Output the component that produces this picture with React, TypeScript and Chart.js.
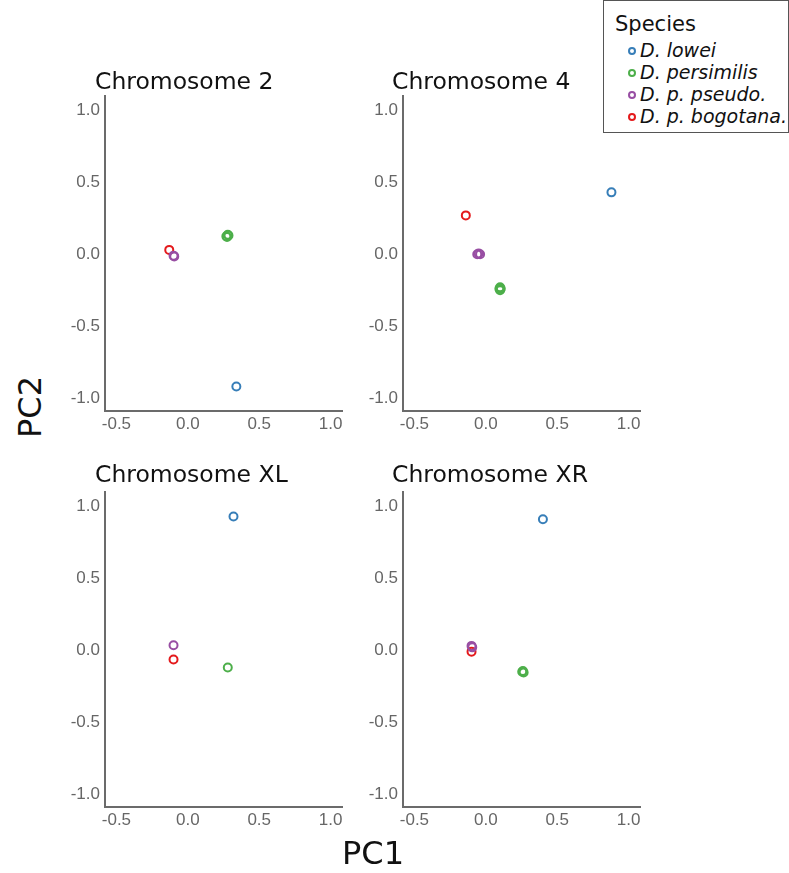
import React, { useEffect, useRef } from "react";
import { Chart, registerables } from "chart.js";

Chart.register(...registerables);

// ---------- data ----------
const speciesNames = ["D. lowei", "D. persimilis", "D. p. pseudo.", "D. p. bogotana."];
const speciesColors = ["#377eb8", "#4daf4a", "#984ea3", "#e41a1c"];
const chromosomeTitles = ["Chromosome 2", "Chromosome 4", "Chromosome XL", "Chromosome XR"];
const xTickValues = [-0.5, 0.0, 0.5, 1.0];
const yTickValues = [-1.0, -0.5, 0.0, 0.5, 1.0];
const axisTitleX = "PC1";
const axisTitleY = "PC2";
const legendTitle = "Species";

// PC1 / PC2 per chromosome; inner lists follow speciesNames order
const chr2PC1 = [[0.34], [0.27, 0.28, 0.285, 0.275], [-0.10, -0.095], [-0.13]];
const chr2PC2 = [[-0.92], [0.125, 0.135, 0.13, 0.12], [-0.01, -0.015], [0.03]];
const chr4PC1 = [[0.88], [0.10, 0.10, 0.105, 0.095], [-0.06, -0.04, -0.05], [-0.14]];
const chr4PC2 = [[0.43], [-0.23, -0.25, -0.24, -0.24], [0.0, 0.0, 0.005], [0.27]];
const chrXLPC1 = [[0.32], [0.28], [-0.10], [-0.10]];
const chrXLPC2 = [[0.93], [-0.12], [0.035], [-0.065]];
const chrXRPC1 = [[0.40], [0.255, 0.265, 0.26], [-0.10, -0.095], [-0.10]];
const chrXRPC2 = [[0.91], [-0.15, -0.155, -0.145], [0.03, 0.02], [-0.01]];

const X_MIN = -0.58;
const X_MAX = 1.08;
const Y_MIN = -1.09;
const Y_MAX = 1.1;

// ---------- layout ----------
const Y_AXIS_W = 50;
const X_AXIS_H = 32;
const PAD_T = 6;
const PAD_R = 8;
const AREA_W = 237;
const AREA_H = 315;

const panels = [
  { pc1: chr2PC1, pc2: chr2PC2, areaLeft: 105, areaTop: 96, titleLeft: 95, titleBase: 90 },
  { pc1: chr4PC1, pc2: chr4PC2, areaLeft: 403, areaTop: 96, titleLeft: 392, titleBase: 90 },
  { pc1: chrXLPC1, pc2: chrXLPC2, areaLeft: 105, areaTop: 492, titleLeft: 95, titleBase: 483 },
  { pc1: chrXRPC1, pc2: chrXRPC2, areaLeft: 403, areaTop: 492, titleLeft: 392, titleBase: 483 },
];

const AXIS_COLOR = "#6b6b6b";
const TICK_COLOR = "#666666";
const SANS = "'DejaVu Sans', Verdana, sans-serif";

function Panel({ pc1, pc2, areaLeft, areaTop }: any) {
  const ref = useRef<HTMLCanvasElement>(null);
  const width = Y_AXIS_W + AREA_W + PAD_R;
  const height = PAD_T + AREA_H + X_AXIS_H;
  useEffect(() => {
    const chart = new Chart(ref.current as HTMLCanvasElement, {
      type: "scatter",
      data: {
        datasets: speciesNames.map((name, i) => ({
          label: name,
          data: pc1[i].map((x: number, j: number) => ({ x, y: pc2[i][j] })),
          borderColor: speciesColors[i],
          backgroundColor: "rgba(0,0,0,0)",
          pointRadius: 4,
          pointHoverRadius: 4,
          pointBorderWidth: 2,
        })),
      },
      options: {
        responsive: false,
        animation: false,
        events: [],
        layout: { padding: { top: PAD_T, right: PAD_R, left: 0, bottom: 0 } },
        plugins: { legend: { display: false }, tooltip: { enabled: false }, title: { display: false } },
        scales: {
          x: {
            type: "linear",
            min: X_MIN,
            max: X_MAX,
            grid: { display: false, drawTicks: false },
            border: { display: true, color: AXIS_COLOR, width: 2 },
            afterBuildTicks: (s: any) => {
              s.ticks = xTickValues.map((v) => ({ value: v }));
            },
            afterFit: (s: any) => {
              s.height = X_AXIS_H;
              s.paddingLeft = 0;
              s.paddingRight = 0;
            },
            ticks: {
              color: TICK_COLOR,
              font: { family: "'Liberation Sans', Arial, sans-serif", size: 17 },
              padding: 3,
              maxRotation: 0,
              autoSkip: false,
              callback: (v: any) => Number(v).toFixed(1),
            },
          },
          y: {
            type: "linear",
            min: Y_MIN,
            max: Y_MAX,
            grid: { display: false, drawTicks: false },
            border: { display: true, color: AXIS_COLOR, width: 2 },
            afterBuildTicks: (s: any) => {
              s.ticks = yTickValues.map((v) => ({ value: v }));
            },
            afterFit: (s: any) => {
              s.width = Y_AXIS_W;
              s.paddingTop = 0;
              s.paddingBottom = 0;
            },
            ticks: {
              color: TICK_COLOR,
              font: { family: "'Liberation Sans', Arial, sans-serif", size: 17 },
              padding: 5,
              autoSkip: false,
              callback: (v: any) => Number(v).toFixed(1),
            },
          },
        },
      },
    } as any);
    return () => chart.destroy();
  }, []);
  return (
    <canvas
      ref={ref}
      width={width}
      height={height}
      style={{ position: "absolute", left: areaLeft - Y_AXIS_W, top: areaTop - PAD_T, width, height }}
    />
  );
}

export default function App() {
  const titleSize = 23.5;
  const titleOffset = (titleSize - titleSize * 1.164) / 2 + titleSize * 0.928;
  const itemSize = 19;
  const itemOffset = (itemSize - itemSize * 1.164) / 2 + itemSize * 0.928;
  const legSize = 21;
  const legOffset = (legSize - legSize * 1.164) / 2 + legSize * 0.928;
  const itemBaselines = [57, 79, 101, 123];
  return (
    <div style={{ position: "absolute", left: 0, top: 0, width: 789, height: 873, background: "#fff", overflow: "hidden" }}>
      {panels.map((p, i) => (
        <React.Fragment key={i}>
          <Panel {...p} />
          <div
            style={{
              position: "absolute",
              left: p.titleLeft,
              top: p.titleBase - titleOffset,
              fontFamily: SANS,
              fontSize: titleSize,
              lineHeight: `${titleSize}px`,
              color: "#111",
              whiteSpace: "nowrap",
            }}
          >
            {chromosomeTitles[i]}
          </div>
        </React.Fragment>
      ))}
      <div
        style={{
          position: "absolute",
          left: 30,
          top: 407,
          transform: "translate(-50%, -50%) rotate(-90deg)",
          fontFamily: SANS,
          fontSize: 32,
          lineHeight: "32px",
          color: "#111",
          whiteSpace: "nowrap",
        }}
      >
        {axisTitleY}
      </div>
      <div
        style={{
          position: "absolute",
          left: 373,
          top: 853,
          transform: "translate(-50%, -50%)",
          fontFamily: SANS,
          fontSize: 32,
          lineHeight: "32px",
          color: "#111",
          whiteSpace: "nowrap",
        }}
      >
        {axisTitleX}
      </div>
      <div
        style={{
          position: "absolute",
          left: 603,
          top: 0,
          width: 186,
          height: 133,
          boxSizing: "border-box",
          border: "1.5px solid #555",
          background: "#fff",
        }}
      />
      <div
        style={{
          position: "absolute",
          left: 615,
          top: 32 - legOffset,
          fontFamily: SANS,
          fontSize: legSize,
          lineHeight: `${legSize}px`,
          color: "#111",
          whiteSpace: "nowrap",
        }}
      >
        {legendTitle}
      </div>
      {speciesNames.map((name, i) => (
        <React.Fragment key={name}>
          <div
            style={{
              position: "absolute",
              left: 628,
              top: itemBaselines[i] - 10,
              width: 8,
              height: 8,
              boxSizing: "border-box",
              border: `2px solid ${speciesColors[i]}`,
              borderRadius: "50%",
            }}
          />
          <div
            style={{
              position: "absolute",
              left: 640,
              top: itemBaselines[i] - itemOffset,
              fontFamily: SANS,
              fontStyle: "italic",
              fontSize: itemSize,
              lineHeight: `${itemSize}px`,
              color: "#111",
              whiteSpace: "nowrap",
            }}
          >
            {name}
          </div>
        </React.Fragment>
      ))}
    </div>
  );
}
